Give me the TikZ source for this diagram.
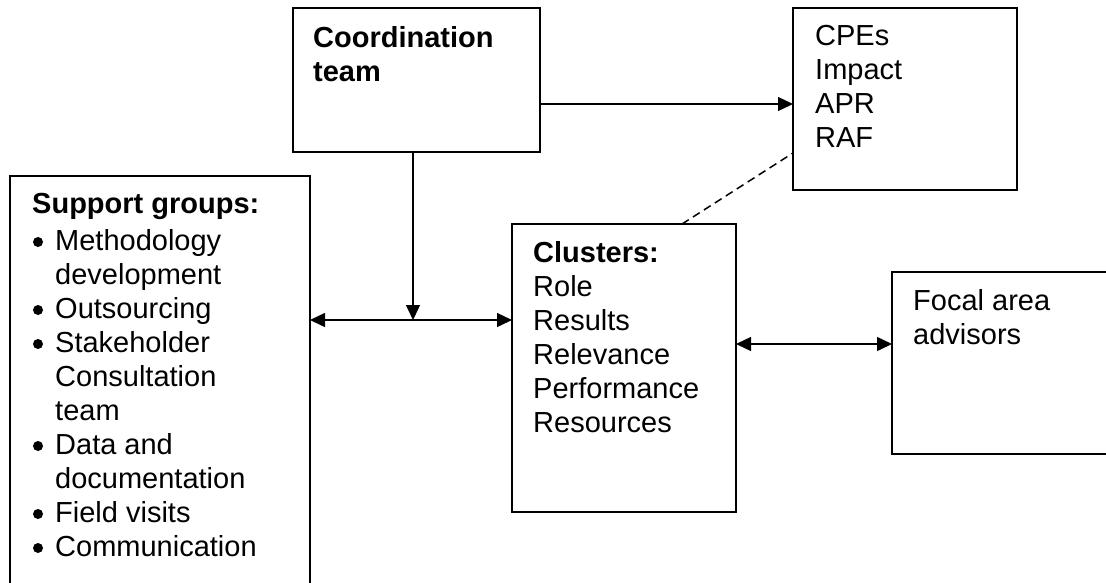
\documentclass[tikz,border=0pt]{standalone}
\usepackage{fontspec}
\setmainfont{Liberation Sans}
\usetikzlibrary{arrows.meta,calc}
\newcommand\sgind{\hspace*{23pt}}
\begin{document}
\begin{tikzpicture}[x=1pt,y=-1pt,
  box/.style={draw, line width=1.7pt, rectangle, anchor=north west, inner sep=0pt, outer sep=0pt},
  txt/.style={anchor=base west, inner sep=0pt, font=\fontsize{29}{34}\selectfont},
  arr/.style={line width=1.4pt, -{Triangle[length=15pt,width=14pt]}},
  darr/.style={line width=1.4pt, {Triangle[length=15pt,width=14pt]}-{Triangle[length=15pt,width=14pt]}},
  dashline/.style={line width=1.5pt, dash pattern=on 8pt off 5pt},
  bul/.style={fill=black}]
\clip (0,0) rectangle (1106,582);
% boxes
\node[box, minimum width=247pt, minimum height=144pt] (coord) at (293,8) {};
\node[box, minimum width=224pt, minimum height=182pt] (cpe) at (793,8) {};
\node[box, minimum width=300pt, minimum height=430pt] (sup) at (10,176) {};
\node[box, minimum width=224pt, minimum height=288pt] (clu) at (512,224) {};
\node[box, minimum width=240pt, minimum height=182pt] (foc) at (892,272) {};
% texts
\node[txt] (coordtxt) at (313,47) {\begin{tabular}[t]{@{}l@{}}\bfseries Coordination\\ \bfseries team\end{tabular}};
\node[txt] (cpetxt) at (815,45) {\begin{tabular}[t]{@{}l@{}}CPEs\\ Impact\\ APR\\ RAF\end{tabular}};
\node[txt] (suphead) at (32,213) {\bfseries Support groups:};
\node[txt] (suplist) at (32,250) {\begin{tabular}[t]{@{}l@{}}\sgind Methodology\\ \sgind development\\ \sgind Outsourcing\\ \sgind Stakeholder\\ \sgind Consultation\\ \sgind team\\ \sgind Data and\\ \sgind documentation\\ \sgind Field visits\\ \sgind Communication\end{tabular}};
\foreach \yy in {250,318,352,454,522,556}
  \fill[bul] (38,\yy-8) circle (5pt);
\node[txt] (clutxt) at (533,262) {\begin{tabular}[t]{@{}l@{}}\bfseries Clusters:\\ Role\\ Results\\ Relevance\\ Performance\\ Resources\end{tabular}};
\node[txt] (foctxt) at (913,310) {\begin{tabular}[t]{@{}l@{}}Focal area\\ advisors\end{tabular}};
% connectors
\coordinate (ya) at (0,104);
\coordinate (junc) at (413,320);
\coordinate (dx) at (682,0);
\coordinate (dy) at (0,153);
\coordinate (yb) at (0,344);
\draw[arr] (coord.east |- ya) -- (cpe.west |- ya);
\draw[arr] (coord.south -| junc) -- (junc);
\draw[darr] (sup.east |- junc) -- (clu.west |- junc);
\draw[dashline] (clu.north -| dx) -- (cpe.west |- dy);
\draw[darr] (clu.east |- yb) -- (foc.west |- yb);
\end{tikzpicture}
\end{document}
